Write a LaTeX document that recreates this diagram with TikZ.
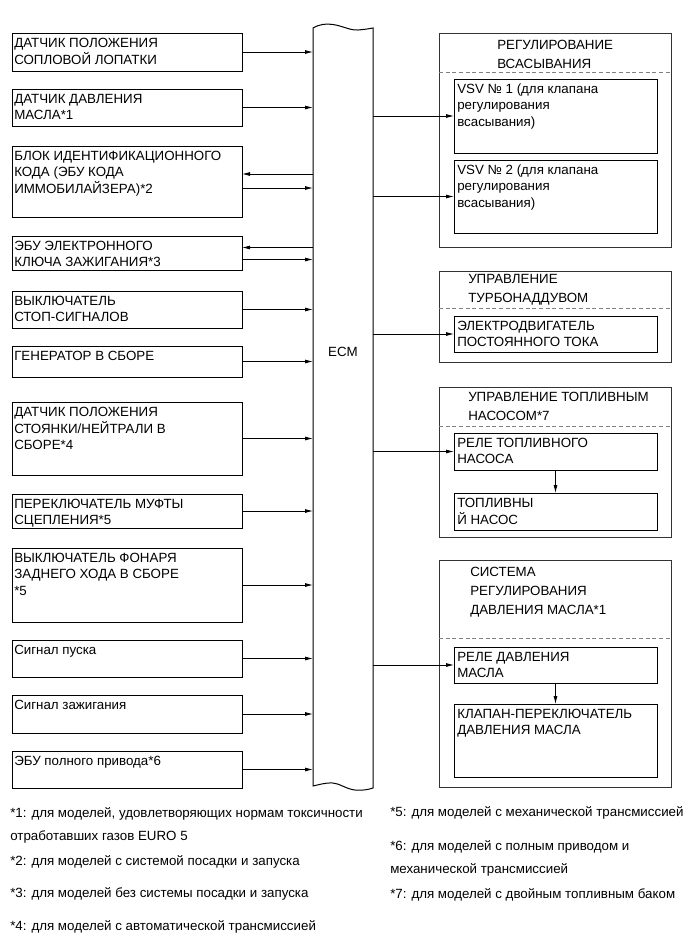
\documentclass[tikz,border=0pt]{standalone}
\usepackage{fontspec}
\setmainfont{Liberation Sans}
\usetikzlibrary{arrows.meta,fit,calc}
\newcommand{\ml}[1]{\begin{tabular}[t]{@{}l@{}}#1\end{tabular}}
\newcommand{\lbox}[6]{\node[bx, fit={(#2,#3)(#4,#5)}] (#1) {};
  \node[txt] (#1t) at ($(#1.north west)+(2,14)$) {\ml{#6}};}
\newcommand{\rbox}[6]{\node[bx, fit={(#2,#3)(#4,#5)}] (#1) {};
  \node[txt] (#1t) at ($(#1.north west)+(3,14)$) {\ml{#6}};}
\begin{document}
\begin{tikzpicture}[x=0.75pt,y=-0.75pt,
  bx/.style={draw=black, line width=0.75pt, inner sep=0pt, outer sep=0pt},
  grp/.style={draw=black!80, line width=0.75pt, inner sep=0pt, outer sep=0pt},
  txt/.style={anchor=base west, inner sep=0pt, font=\fontsize{10}{12.4}\selectfont},
  ttl/.style={anchor=base west, inner sep=0pt, font=\fontsize{10}{14.25}\selectfont},
  arr/.style={line width=0.6pt, -{Latex[length=6pt,width=3pt]}},
  sepl/.style={draw=gray, line width=0.6pt, dash pattern=on 3pt off 2pt}]
\useasboundingbox[fill=white] (0,0) rectangle (691,951);

% ECM
\node[inner sep=0pt, outer sep=0pt, fit={(313,28)(373,787)}] (ecm) {};
\draw[line width=0.75pt] (313,786) -- (313,28)
  .. controls (320,24) and (326,23.5) .. (333,24.5)
  .. controls (343,26) and (350,30.5) .. (358,30)
  .. controls (365,29.5) and (370,28.5) .. (373,28)
  -- (373,788)
  .. controls (367,790) and (362,790.5) .. (355,790)
  .. controls (346,789) and (340,783.5) .. (333,783)
  .. controls (325,782.5) and (318,785) .. (313,786) -- cycle;
\node[font=\fontsize{10}{12}\selectfont, inner sep=0pt] (ecmt) at (343,352) {ECM};

% left boxes
\lbox{l1}{12}{33}{242}{71}{ДАТЧИК ПОЛОЖЕНИЯ\\СОПЛОВОЙ ЛОПАТКИ}
\lbox{l2}{12}{89}{242}{126}{ДАТЧИК ДАВЛЕНИЯ\\МАСЛА*1}
\lbox{l3}{12}{146}{242}{217}{БЛОК ИДЕНТИФИКАЦИОННОГО\\КОДА (ЭБУ КОДА\\ИММОБИЛАЙЗЕРА)*2}
\lbox{l4}{12}{236}{242}{270}{ЭБУ ЭЛЕКТРОННОГО\\КЛЮЧА ЗАЖИГАНИЯ*3}
\lbox{l5}{12}{291}{242}{328}{ВЫКЛЮЧАТЕЛЬ\\СТОП-СИГНАЛОВ}
\lbox{l6}{12}{346}{242}{377}{ГЕНЕРАТОР В СБОРЕ}
\lbox{l7}{12}{402}{242}{475}{ДАТЧИК ПОЛОЖЕНИЯ\\СТОЯНКИ/НЕЙТРАЛИ В\\СБОРЕ*4}
\lbox{l8}{12}{494}{242}{528}{ПЕРЕКЛЮЧАТЕЛЬ МУФТЫ\\СЦЕПЛЕНИЯ*5}
\lbox{l9}{12}{548}{242}{622}{ВЫКЛЮЧАТЕЛЬ ФОНАРЯ\\ЗАДНЕГО ХОДА В СБОРЕ\\{}*5}
\lbox{l10}{12}{640}{242}{677}{Сигнал пуска}
\lbox{l11}{12}{695}{242}{733}{Сигнал зажигания}
\lbox{l12}{12}{751}{242}{788}{ЭБУ полного привода*6}

% left arrows
\foreach \n in {l1,l2,l5,l6,l7,l8,l9,l10,l11,l12}
  \draw[arr] (\n) -- (\n -| ecm.west);
\coordinate (l3a) at ($(l3.east)+(0,-7.5)$);
\coordinate (l3b) at ($(l3.east)+(0,6.5)$);
\coordinate (l4a) at ($(l4.east)+(0,-5.5)$);
\coordinate (l4b) at ($(l4.east)+(0,6.5)$);
\draw[arr] (l3a -| ecm.west) -- (l3a);
\draw[arr] (l3b) -- (l3b -| ecm.west);
\draw[arr] (l4a -| ecm.west) -- (l4a);
\draw[arr] (l4b) -- (l4b -| ecm.west);

% group 1
\node[grp, fit={(439,33)(671,247)}] (g1) {};
\node[ttl] (g1t) at (497,49) {\ml{РЕГУЛИРОВАНИЕ\\ВСАСЫВАНИЯ}};
\draw[sepl] (g1.west |- 0,72) -- (g1.east |- 0,72);
\rbox{r1a}{454}{79}{657}{153}{VSV № 1 (для клапана\\регулирования\\всасывания)}
\rbox{r1b}{454}{160}{657}{233}{VSV № 2 (для клапана\\регулирования\\всасывания)}

% group 2
\node[grp, fit={(439,271)(671,362)}] (g2) {};
\node[ttl] (g2t) at (468,283) {\ml{УПРАВЛЕНИЕ\\ТУРБОНАДДУВОМ}};
\draw[sepl] (g2.west |- 0,308) -- (g2.east |- 0,308);
\rbox{r2a}{454}{316}{657}{352}{ЭЛЕКТРОДВИГАТЕЛЬ\\ПОСТОЯННОГО ТОКА}

% group 3
\node[grp, fit={(439,387)(671,537)}] (g3) {};
\node[ttl] (g3t) at (468,401) {\ml{УПРАВЛЕНИЕ ТОПЛИВНЫМ\\НАСОСОМ*7}};
\draw[sepl] (g3.west |- 0,426) -- (g3.east |- 0,426);
\rbox{r3a}{454}{433}{657}{470}{РЕЛЕ ТОПЛИВНОГО\\НАСОСА}
\rbox{r3b}{454}{493}{657}{530}{ТОПЛИВНЫ\\Й НАСОС}

% group 4
\node[grp, fit={(439,560)(671,787)}] (g4) {};
\node[ttl] (g4t) at (470,576) {\ml{СИСТЕМА\\РЕГУЛИРОВАНИЯ\\ДАВЛЕНИЯ МАСЛА*1}};
\draw[sepl] (g4.west |- 0,638) -- (g4.east |- 0,638);
\rbox{r4a}{454}{647}{657}{683}{РЕЛЕ ДАВЛЕНИЯ\\МАСЛА}
\rbox{r4b}{454}{704}{657}{777}{КЛАПАН-ПЕРЕКЛЮЧАТЕЛЬ\\ДАВЛЕНИЯ МАСЛА}

% right arrows
\foreach \n in {r1a,r1b,r2a,r3a,r4a}
  \draw[arr] (\n -| ecm.east) -- (\n);
\draw[arr] (r3a.south) -- (r3b.north);
\draw[arr] (r4a.south) -- (r4b.north);

% footnotes
\node[txt] (f1) at (10,817) {*1: для моделей, удовлетворяющих нормам токсичности};
\node[txt] (f1b) at (10,840) {отработавших газов EURO 5};
\node[txt] (f2) at (10,865) {*2: для моделей с системой посадки и запуска};
\node[txt] (f3) at (10,897) {*3: для моделей без системы посадки и запуска};
\node[txt] (f4) at (10,930) {*4: для моделей с автоматической трансмиссией};
\node[txt] (f5) at (390,816) {*5: для моделей с механической трансмиссией};
\node[txt] (f6) at (390,850) {*6: для моделей с полным приводом и};
\node[txt] (f6b) at (390,873) {механической трансмиссией};
\node[txt] (f7) at (390,898) {*7: для моделей с двойным топливным баком};
\end{tikzpicture}
\end{document}
